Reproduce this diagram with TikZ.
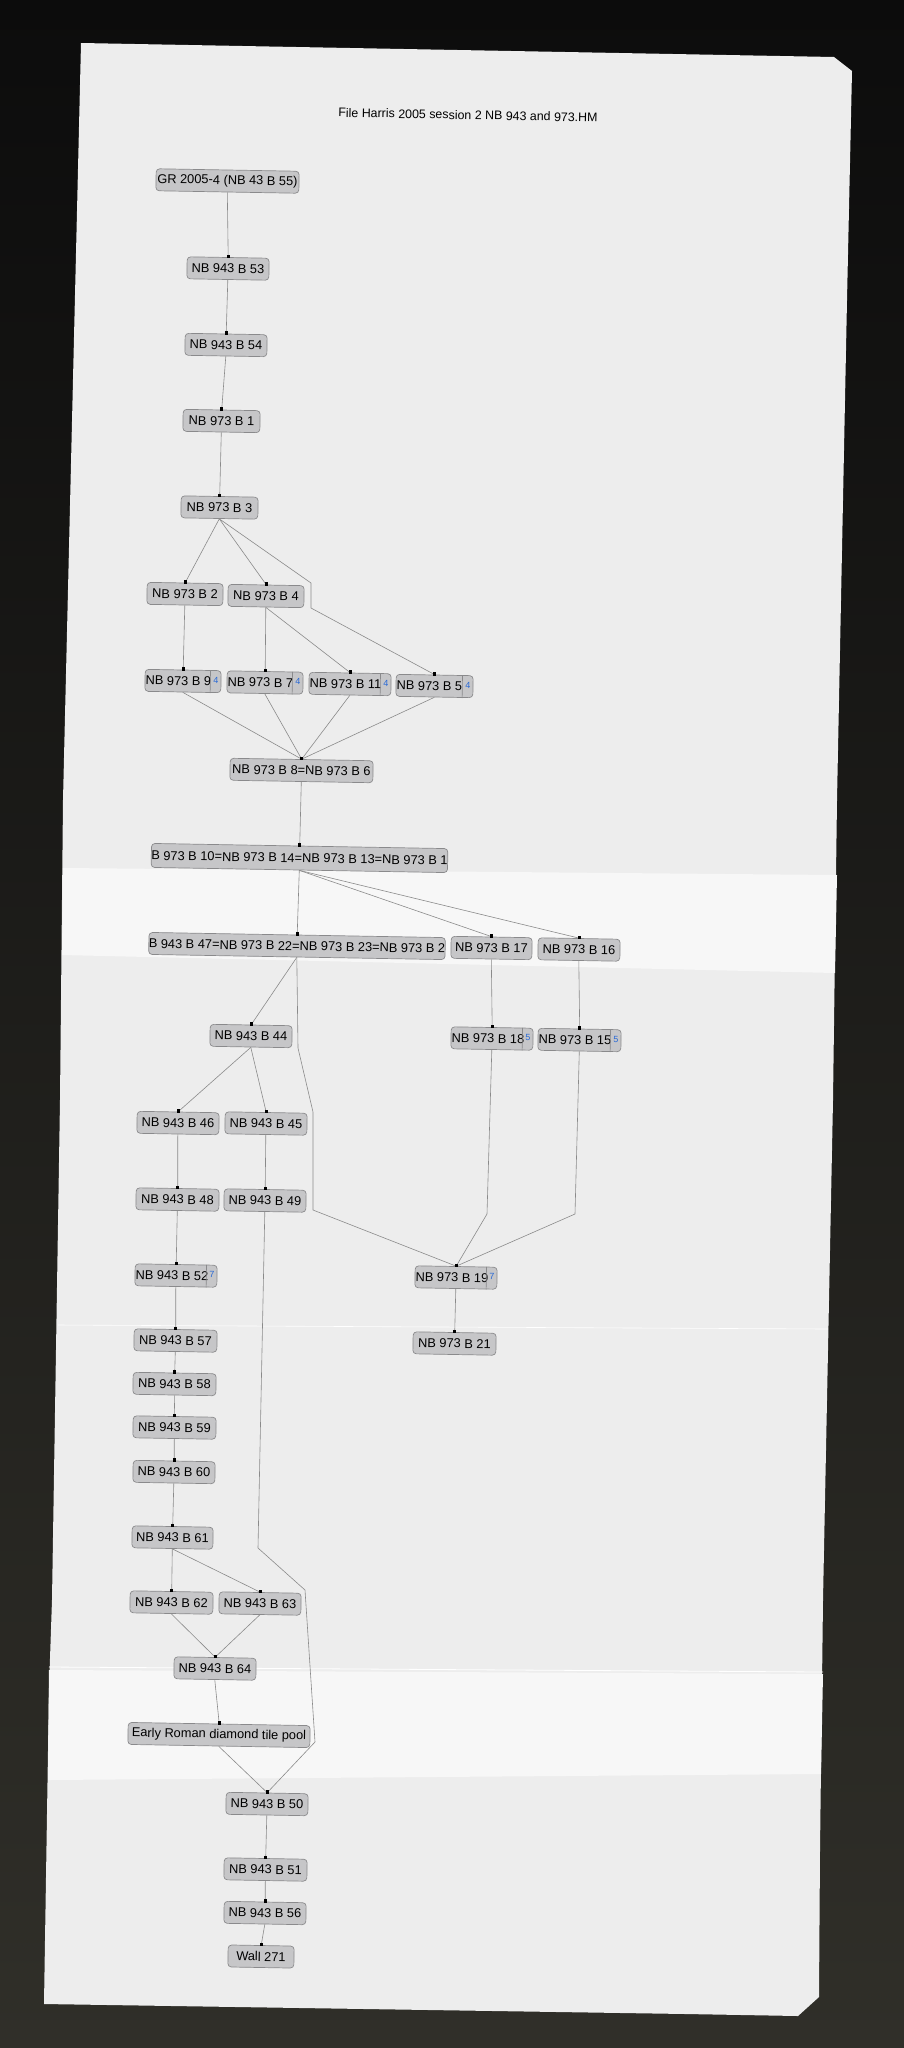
\documentclass[tikz,border=0pt]{standalone}
\usepackage{fontspec}
\setmainfont{Liberation Sans}
\usetikzlibrary{calc}
\definecolor{bgtop}{HTML}{0C0C0C}
\definecolor{bgbot}{HTML}{302F29}
\definecolor{paper}{HTML}{EDEDED}
\definecolor{paperlight}{HTML}{F7F7F7}
\definecolor{boxfill}{HTML}{C6C6C8}
\definecolor{boxline}{HTML}{8A8A8C}
\definecolor{edgecol}{HTML}{8A8A8A}
\definecolor{badgeblue}{HTML}{2A6AD6}
\newcommand\nfont{\fontsize{12.8}{14}\selectfont}
\newcommand\dfont{\fontsize{9}{10}\selectfont}
\newcommand\bnode[6]{%
  \node[box, minimum width=#4pt] (#1) at (#2,#3) {};
  \node[btext] (#1t) at ([xshift=0.8pt]#1.west) {#5};
  \draw[bsep] ([xshift=-11pt]#1.north east) -- ([xshift=-11pt]#1.south east);
  \node[bdig] (#1d) at ([xshift=-5.5pt,yshift=1.5pt]#1.east) {#6};
}
\newcommand\sqm[1]{\fill[black] ([xshift=-1.6pt,yshift=-1pt]#1.north) rectangle ([xshift=1.6pt,yshift=2.2pt]#1.north);}
\begin{document}
\begin{tikzpicture}[x=1pt,y=-1pt,
  box/.style={draw=boxline, fill=boxfill, rounded corners=3.5pt, line width=0.7pt,
    minimum height=22pt, inner sep=0pt, rotate=-1, font=\nfont},
  btext/.style={inner sep=0pt, font=\nfont, rotate=-1, anchor=west},
  bdig/.style={inner sep=0pt, font=\dfont, text=badgeblue, rotate=-1},
  bsep/.style={draw=boxline, line width=0.6pt},
  edge/.style={draw=edgecol, line width=0.6pt}]
\useasboundingbox (0,0) rectangle (904,2048);
\shade[top color=bgtop, bottom color=bgbot] (0,0) rectangle (904,2048);
% paper
\fill[paper] (81,43) -- (834,57) -- (852,71) -- (847,300) -- (837,800) -- (833,1100)
  -- (823,1600) -- (820,1850) -- (819,1997) -- (798,2016) -- (686,2014) -- (44,2004)
  -- (49,1688) -- (52,1600) -- (60,1100) -- (63,800) -- cycle;
\fill[paperlight] (63,868) -- (837,875) -- (835,973) -- (62,955) -- cycle;
\fill[paperlight] (49,1670) -- (823,1674) -- (821,1774) -- (48,1780) -- cycle;
\draw[white, line width=0.8pt] (49,1667) -- (823,1672);
\draw[white, line width=0.6pt] (58,1325) -- (828,1329);
% title
\node[inner sep=0pt, font=\fontsize{12.4}{14}\selectfont, rotate=-1.1] (title) at (468,115)
  {File Harris 2005 session 2 NB 943 and 973.HM};
% nodes
\node[box, minimum width=143pt] (n0) at (227.5,181) {GR 2005-4 (NB 43 B 55)};
\node[box, minimum width=82pt] (n53) at (228,268.5) {NB 943 B 53};
\node[box, minimum width=82pt] (n54) at (226,345) {NB 943 B 54};
\node[box, minimum width=77pt] (n1) at (221.5,421) {NB 973 B 1};
\node[box, minimum width=77pt] (n3) at (219.5,507.5) {NB 973 B 3};
\node[box, minimum width=76pt] (n2) at (185,594) {NB 973 B 2};
\node[box, minimum width=76pt] (n4) at (266,596) {NB 973 B 4};
\bnode{n9}{183}{681}{76}{NB 973 B 9}{4}
\bnode{n7}{265}{682.5}{76}{NB 973 B 7}{4}
\bnode{n11}{350}{684}{82}{NB 973 B 11}{4}
\bnode{n5}{434.5}{686}{77}{NB 973 B 5}{4}
\node[box, minimum width=143pt] (n8) at (301.5,770.5) {NB 973 B 8=NB 973 B 6};
\node[box, minimum width=295pt, minimum height=24pt] (n10) at (299.5,858) {B 973 B 10=NB 973 B 14=NB 973 B 13=NB 973 B 1};
\node[box, minimum width=296pt] (n47) at (297,946) {B 943 B 47=NB 973 B 22=NB 973 B 23=NB 973 B 2};
\node[box, minimum width=81pt] (n17) at (491.5,948) {NB 973 B 17};
\node[box, minimum width=82pt] (n16) at (579,949.5) {NB 973 B 16};
\node[box, minimum width=82pt] (n44) at (251,1036) {NB 943 B 44};
\bnode{n18}{492}{1038.5}{82}{NB 973 B 18}{5}
\bnode{n15}{579.5}{1040}{83}{NB 973 B 15}{5}
\node[box, minimum width=82pt] (n46) at (178,1123) {NB 943 B 46};
\node[box, minimum width=82pt] (n45) at (266,1123.5) {NB 943 B 45};
\node[box, minimum width=83pt] (n48) at (177.5,1199.5) {NB 943 B 48};
\node[box, minimum width=82pt] (n49) at (265,1200.5) {NB 943 B 49};
\bnode{n52}{176}{1275.5}{82}{NB 943 B 52}{7}
\bnode{n19}{456}{1277.5}{82}{NB 973 B 19}{7}
\node[box, minimum width=83pt] (n21) at (454.5,1343.5) {NB 973 B 21};
\node[box, minimum width=83pt] (n57) at (175.5,1340.5) {NB 943 B 57};
\node[box, minimum width=83pt] (n58) at (174.5,1384) {NB 943 B 58};
\node[box, minimum width=83pt] (n59) at (174.5,1427.5) {NB 943 B 59};
\node[box, minimum width=82pt] (n60) at (174,1472) {NB 943 B 60};
\node[box, minimum width=81pt] (n61) at (172.5,1537.5) {NB 943 B 61};
\node[box, minimum width=83pt] (n62) at (171.5,1602.5) {NB 943 B 62};
\node[box, minimum width=82pt] (n63) at (260,1603.5) {NB 943 B 63};
\node[box, minimum width=82pt] (n64) at (215,1668.5) {NB 943 B 64};
\node[box, minimum width=182pt] (nerp) at (219,1735) {Early Roman diamond tile pool};
\node[box, minimum width=82pt] (n50) at (267,1804) {NB 943 B 50};
\node[box, minimum width=83pt] (n51) at (265.5,1869.5) {NB 943 B 51};
\node[box, minimum width=82pt] (n56) at (265,1913) {NB 943 B 56};
\node[box, minimum width=66pt] (nw) at (261,1956.5) {Wall 271};
% bend points
\coordinate (p1) at (311,583);
\coordinate (p2) at (311,608);
\coordinate (q1) at (298,1048);
\coordinate (q2) at (313,1112);
\coordinate (q3) at (313,1210);
\coordinate (r1) at (487,1214);
\coordinate (s1) at (575,1214);
\coordinate (t1) at (258,1548);
\coordinate (t2) at (305,1590);
\coordinate (t3) at (315,1742);
% connectors
\draw[edge] (n0.south) -- (n53.north);
\draw[edge] (n53.south) -- (n54.north);
\draw[edge] (n54.south) -- (n1.north);
\draw[edge] (n1.south) -- (n3.north);
\draw[edge] (n3.south) -- (n2.north);
\draw[edge] (n3.south) -- (n4.north);
\draw[edge] (n3.south) -- (p1) -- (p2) -- (n5.north);
\draw[edge] (n2.south) -- (n9.north);
\draw[edge] (n4.south) -- (n7.north);
\draw[edge] (n4.south) -- (n11.north);
\draw[edge] (n9.south) -- (n8.north);
\draw[edge] (n7.south) -- (n8.north);
\draw[edge] (n11.south) -- (n8.north);
\draw[edge] (n5.south) -- (n8.north);
\draw[edge] (n8.south) -- (n10.north);
\draw[edge] (n10.south) -- (n47.north);
\draw[edge] (n10.south) -- (n17.north);
\draw[edge] (n10.south) -- (n16.north);
\draw[edge] (n47.south) -- (n44.north);
\draw[edge] (n47.south) -- (q1) -- (q2) -- (q3) -- (n19.north);
\draw[edge] (n17.south) -- (n18.north);
\draw[edge] (n16.south) -- (n15.north);
\draw[edge] (n18.south) -- (r1) -- (n19.north);
\draw[edge] (n15.south) -- (s1) -- (n19.north);
\draw[edge] (n44.south) -- (n46.north);
\draw[edge] (n44.south) -- (n45.north);
\draw[edge] (n46.south) -- (n48.north);
\draw[edge] (n45.south) -- (n49.north);
\draw[edge] (n48.south) -- (n52.north);
\draw[edge] (n49.south) -- (t1) -- (t2) -- (t3) -- (n50.north);
\draw[edge] (n19.south) -- (n21.north);
\draw[edge] (n52.south) -- (n57.north);
\draw[edge] (n57.south) -- (n58.north);
\draw[edge] (n58.south) -- (n59.north);
\draw[edge] (n59.south) -- (n60.north);
\draw[edge] (n60.south) -- (n61.north);
\draw[edge] (n61.south) -- (n62.north);
\draw[edge] (n61.south) -- (n63.north);
\draw[edge] (n62.south) -- (n64.north);
\draw[edge] (n63.south) -- (n64.north);
\draw[edge] (n64.south) -- (nerp.north);
\draw[edge] (nerp.south) -- (n50.north);
\draw[edge] (n50.south) -- (n51.north);
\draw[edge] (n51.south) -- (n56.north);
\draw[edge] (n56.south) -- (nw.north);
% end markers
\foreach \c in {n53,n54,n1,n3,n2,n4,n9,n7,n11,n5,n8,n10,n47,n17,n16,n44,n18,n15,
  n46,n45,n48,n49,n52,n19,n21,n57,n58,n59,n60,n61,n62,n63,n64,nerp,n50,n51,n56,nw}
  {\sqm{\c}}
\end{tikzpicture}
\end{document}
